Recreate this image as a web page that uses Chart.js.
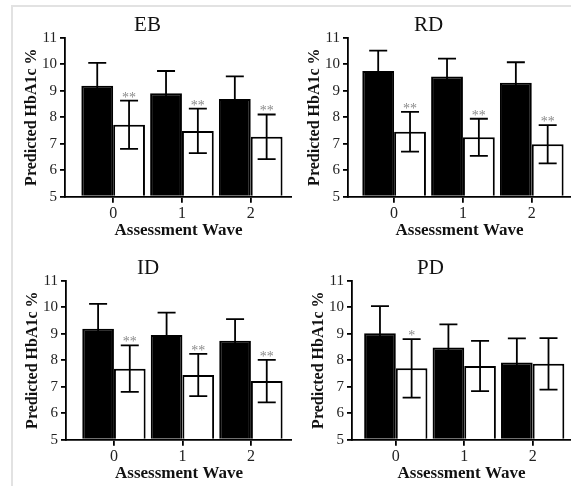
<!DOCTYPE html>
<html>
<head>
<meta charset="utf-8">
<script src="https://cdn.jsdelivr.net/npm/chart.js@4"></script>
<style>
    html, body { margin: 0; padding: 0; background: #fff; }
    body { width: 571px; height: 486px; position: relative; overflow: hidden; }
    .frame { position: absolute; left: 11px; top: 5px; right: 0; bottom: 0;
             border-left: 2px solid #e2e2e2; border-top: 2px solid #e2e2e2; }
    .panel { position: absolute; }
</style>
</head>
<body>
<div class="frame"></div>
<div class="panel" style="left:3px;top:0;width:289px;height:243px"><canvas id="c0"></canvas></div>
<div class="panel" style="left:286px;top:0;width:285px;height:243px"><canvas id="c1"></canvas></div>
<div class="panel" style="left:4px;top:243px;width:288px;height:243px"><canvas id="c2"></canvas></div>
<div class="panel" style="left:290px;top:243px;width:281px;height:243px"><canvas id="c3"></canvas></div>
<script>
// categories and ticks
const waves = [0, 1, 2];
const yTicks = [5, 6, 7, 8, 9, 10, 11];

// EB
const ebBlack = [9.18, 8.90, 8.68];
const ebBlackErr = [0.87, 0.84, 0.86];
const ebWhite = [7.71, 7.48, 7.26];
const ebWhiteErr = [0.91, 0.84, 0.84];
const ebStars = ['**', '**', '**'];

// RD
const rdBlack = [9.74, 9.53, 9.30];
const rdBlackErr = [0.77, 0.68, 0.77];
const rdWhite = [7.45, 7.24, 6.98];
const rdWhiteErr = [0.75, 0.70, 0.72];
const rdStars = ['**', '**', '**'];

// ID
const idBlack = [9.18, 8.95, 8.73];
const idBlackErr = [0.94, 0.84, 0.82];
const idWhite = [7.68, 7.44, 7.21];
const idWhiteErr = [0.88, 0.80, 0.80];
const idStars = ['**', '**', '**'];

// PD
const pdBlack = [9.01, 8.48, 7.91];
const pdBlackErr = [1.03, 0.87, 0.91];
const pdWhite = [7.69, 7.78, 7.86];
const pdWhiteErr = [1.10, 0.95, 0.97];
const pdStars = ['*', '', ''];

const serif = '"Liberation Serif", "DejaVu Serif", serif';

// draws the whiskers + significance stars on top of the bars
const errorBarPlugin = {
    id: 'errorBars',
    afterDatasetsDraw: (chart) => {
        const ctx = chart.ctx;
        const yScale = chart.scales.y;
        ctx.save();
        ctx.strokeStyle = '#000';
        ctx.lineWidth = 1.8;
        chart.data.datasets.forEach((ds, di) => {
            const meta = chart.getDatasetMeta(di);
            meta.data.forEach((bar, i) => {
                const v = ds.data[i].y;
                const e = ds.errors[i];
                const yTop = yScale.getPixelForValue(v + e);
                const yBot = yScale.getPixelForValue(v - e);
                const half = 9;
                ctx.beginPath();
                ctx.moveTo(bar.x, yTop);
                ctx.lineTo(bar.x, yBot);
                ctx.moveTo(bar.x - half, yTop);
                ctx.lineTo(bar.x + half, yTop);
                ctx.moveTo(bar.x - half, yBot);
                ctx.lineTo(bar.x + half, yBot);
                ctx.stroke();
                if (ds.stars && ds.stars[i]) {
                    ctx.fillStyle = '#8a8a8a';
                    ctx.font = '14px ' + serif;
                    ctx.textAlign = 'center';
                    ctx.textBaseline = 'alphabetic';
                    ctx.fillText(ds.stars[i], bar.x, yTop + 1);
                }
            });
        });
        ctx.restore();
    }
};

function renderPanel(canvasId, title, black, blackErr, white, whiteErr, stars, xMin, xMax) {
    const ctx = document.getElementById(canvasId).getContext('2d');
    new Chart(ctx, {
        type: 'bar',
        data: {
            datasets: [{
                data: waves.map((w, i) => ({x: w, y: black[i]})),
                errors: blackErr,
                backgroundColor: '#000',
                borderColor: '#000',
                borderWidth: 2,
                base: 5,
                categoryPercentage: 0.925,
                barPercentage: 1
            }, {
                data: waves.map((w, i) => ({x: w, y: white[i]})),
                errors: whiteErr,
                stars: stars,
                backgroundColor: '#fff',
                borderColor: '#000',
                borderWidth: 2,
                base: 5,
                categoryPercentage: 0.925,
                barPercentage: 1
            }]
        },
        options: {
            responsive: true,
            maintainAspectRatio: false,
            animation: false,
            layout: { padding: { top: 12.4, bottom: 1.8, left: 0, right: 0 } },
            scales: {
                x: {
                    type: 'linear',
                    offset: false,
                    min: xMin,
                    max: xMax,
                    afterBuildTicks: (s) => { s.ticks = waves.map(v => ({value: v})); },
                    afterFit: (s) => { s.height = 44.5; },
                    grid: { display: true, offset: false, drawOnChartArea: false, drawTicks: true, tickLength: 6, color: '#000', lineWidth: 1.8 },
                    border: { display: true, color: '#000', width: 1.8 },
                    ticks: { font: { family: serif, size: 16 }, color: '#222', padding: 1, callback: (v) => String(v) },
                    title: { display: true, text: 'Assessment Wave', color: '#111',
                             font: { family: serif, size: 17, weight: 'bold' }, padding: { top: 0, bottom: 0 } }
                },
                y: {
                    min: 5,
                    max: 11,
                    afterBuildTicks: (s) => { s.ticks = yTicks.map(v => ({value: v})); },
                    afterFit: (s) => { s.width = 62; },
                    grid: { display: true, drawOnChartArea: false, drawTicks: true, tickLength: 5, color: '#000', lineWidth: 1.8 },
                    border: { display: true, color: '#000', width: 1.8 },
                    ticks: { font: { family: serif, size: 15 }, color: '#222', padding: 3 },
                    title: { display: true, text: 'Predicted HbA1c %', color: '#111',
                             font: { family: serif, size: 16, weight: 'bold' }, padding: { top: 19, bottom: 0 } }
                }
            },
            plugins: {
                legend: { display: false },
                tooltip: { enabled: false },
                title: { display: true, text: title, color: '#111',
                         font: { family: serif, size: 21, weight: 'normal' }, padding: { top: 0, bottom: 0 } }
            }
        },
        plugins: [errorBarPlugin]
    });
}

renderPanel('c0', 'EB', ebBlack, ebBlackErr, ebWhite, ebWhiteErr, ebStars, -0.70, 2.60);
renderPanel('c1', 'RD', rdBlack, rdBlackErr, rdWhite, rdWhiteErr, rdStars, -0.67, 2.57);
renderPanel('c2', 'ID', idBlack, idBlackErr, idWhite, idWhiteErr, idStars, -0.70, 2.60);
renderPanel('c3', 'PD', pdBlack, pdBlackErr, pdWhite, pdWhiteErr, pdStars, -0.64, 2.56);
</script>
</body>
</html>
